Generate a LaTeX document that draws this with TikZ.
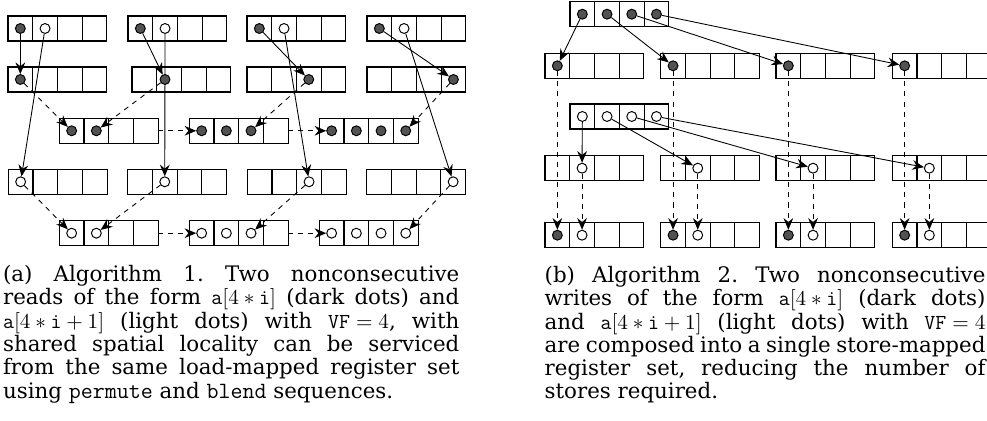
\documentclass[tikz,border=0pt]{standalone}
\usepackage{fontspec}
\setmainfont{DejaVu Serif}
\usetikzlibrary{arrows.meta}
\pgfdeclarelayer{bg}
\pgfsetlayers{bg,main}

\newlength\cw
\setlength\cw{12.72pt}

\tikzset{
  reg/.style={draw, line width=0.6pt, minimum width=4\cw, minimum height=12.875pt,
    inner sep=0pt, outer sep=0pt, anchor=north west},
  dk/.style={circle, draw, fill=black!68, line width=0.5pt, minimum size=5.1pt, inner sep=0pt},
  lt/.style={circle, draw, fill=white, line width=0.5pt, minimum size=5.1pt, inner sep=0pt},
  mv/.style={-{Stealth[length=6pt,width=5pt,inset=2pt]}, line width=0.45pt},
  sh/.style={mv, dash pattern=on 2.6pt off 2.6pt},
  captext/.style={anchor=base west, inner sep=0pt, font=\fontsize{11}{12}\selectfont},
}

% a register of four cells: name, left, top
\newcommand\regbox[3]{%
  \node[reg] (#1) at (#2,#3) {};
  \foreach \k in {1,2,3}{\draw[line width=0.6pt] ([xshift=\k\cw]#1.north west) -- ([xshift=\k\cw]#1.south west);}
}
% a dot in a cell: style, name, register, cell index
\newcommand\putdot[4]{%
  \node[#1] (#2) at ([xshift={(#4-0.5)*\cw}]#3.west) {};
}
% one justified caption line
\newcommand\jl[1]{\makebox[\linewidth][s]{#1}\\}
% slightly larger typewriter words
\newcommand\tw[1]{{\fontsize{12}{12}\selectfont\texttt{#1}}}
% formulas kept at natural width
\newcommand\fm[1]{\mbox{$#1$}}

\begin{document}
\frenchspacing
\begin{tikzpicture}[x=0.515pt, y=-0.515pt]
\useasboundingbox (0,0) rectangle (987,421);

% ---------- (a) loads ----------
\regbox{a11}{8}{16} \regbox{a12}{128}{16} \regbox{a13}{247}{16} \regbox{a14}{367}{16}
\regbox{a21}{8}{67} \regbox{a22}{132}{67} \regbox{a23}{247}{67} \regbox{a24}{367}{67}
\regbox{a31}{59.3}{118.3} \regbox{a32}{189.3}{118.3} \regbox{a33}{319.3}{118.3}
\regbox{a41}{8.3}{169.3} \regbox{a42}{127.7}{169.3} \regbox{a43}{247.3}{169.3} \regbox{a44}{366.7}{169.3}
\regbox{a51}{59.3}{220.7} \regbox{a52}{189.3}{220.7} \regbox{a53}{319.3}{220.7}

\foreach \i in {1,2,3,4}{\putdot{dk}{p1\i}{a1\i}{1} \putdot{lt}{q1\i}{a1\i}{2}}
\putdot{dk}{p21}{a21}{1}
\node[dk] (p22) at (165,79.5) {};
\putdot{dk}{p23}{a23}{3}
\putdot{dk}{p24}{a24}{4}
\putdot{dk}{s11}{a31}{1} \putdot{dk}{s12}{a31}{2}
\foreach \c in {1,2,3}{\putdot{dk}{s2\c}{a32}{\c}}
\foreach \c in {1,2,3,4}{\putdot{dk}{s3\c}{a33}{\c}}
\putdot{lt}{q41}{a41}{1}
\putdot{lt}{q42}{a42}{2}
\putdot{lt}{q43}{a43}{3}
\putdot{lt}{q44}{a44}{4}
\putdot{lt}{t11}{a51}{1} \putdot{lt}{t12}{a51}{2}
\foreach \c in {1,2,3}{\putdot{lt}{t2\c}{a52}{\c}}
\foreach \c in {1,2,3,4}{\putdot{lt}{t3\c}{a53}{\c}}

\begin{pgfonlayer}{bg}
  \draw[mv] (p11) -- (p21);
  \draw[mv] (q11) -- (q41);
  \draw[mv] (p12) -- (p22);
  \draw[mv] (q12) -- (q42);
  \draw[mv] (p13) -- (p23);
  \draw[mv] (q13) -- (q43);
  \draw[mv] (p14) -- (p24);
  \draw[mv] (q14) -- (q44);
  \draw[sh] (p21) -- (s11);
  \draw[sh] (p22) -- (s12);
  \draw[sh] (p23) -- (s23);
  \draw[sh] (p24) -- (s34);
  \draw[sh] (a31.east) -- (s21);
  \draw[sh] (a32.east) -- (s31);
  \draw[sh] (q41) -- (t11);
  \draw[sh] (q42) -- (t12);
  \draw[sh] (q43) -- (t23);
  \draw[sh] (q44) -- (t34);
  \draw[sh] (a51.east) -- (t21);
  \draw[sh] (a52.east) -- (t31);
\end{pgfonlayer}

% ---------- (b) stores ----------
\regbox{t1}{570}{1.7}
\regbox{t2}{570}{104}
\foreach \i/\x in {1/545,2/660.7,3/776,4/892.3}{
  \regbox{b2\i}{\x}{53.3}
  \regbox{b4\i}{\x}{155.7}
  \regbox{b5\i}{\x}{222.7}
}
\foreach \i in {1,2,3,4}{
  \putdot{dk}{u\i}{t1}{\i}
  \putdot{lt}{w\i}{t2}{\i}
  \putdot{dk}{v\i}{b2\i}{1}
  \putdot{lt}{x\i}{b4\i}{2}
  \putdot{dk}{y\i}{b5\i}{1}
  \putdot{lt}{z\i}{b5\i}{2}
}
\begin{pgfonlayer}{bg}
  \foreach \i in {1,2,3,4}{
    \draw[mv] (u\i) -- (v\i);
    \draw[mv] (w\i) -- (x\i);
    \draw[sh] (v\i) -- (y\i);
    \draw[sh] (x\i) -- (z\i);
  }
\end{pgfonlayer}

% ---------- captions ----------
\node[captext] (capa) at (2.7,281.7) {\parbox[t]{235pt}{%
\jl{(a) Algorithm 1. Two nonconsecutive}
\jl{reads of the form \fm{\mathtt{a}[4*\mathtt{i}]} (dark dots) and}
\jl{\fm{\mathtt{a}[4*\mathtt{i}+1]} (light dots) with \fm{\mathtt{VF}=4}, with}
\jl{shared spatial locality can be serviced}
\jl{from the same load-mapped register set}
using \tw{permute} and \tw{blend} sequences.}};

\node[captext] (capb) at (544.3,282.5) {\parbox[t]{227pt}{%
\jl{(b) Algorithm 2. Two nonconsecutive}
\jl{writes of the form \fm{\mathtt{a}[4*\mathtt{i}]} (dark dots)}
\jl{and \fm{\mathtt{a}[4*\mathtt{i}+1]} (light dots) with \fm{\mathtt{VF}=4}}
\jl{are composed into a single store-mapped}
\jl{register set, reducing the number of}
stores required.}};
\end{tikzpicture}
\end{document}
